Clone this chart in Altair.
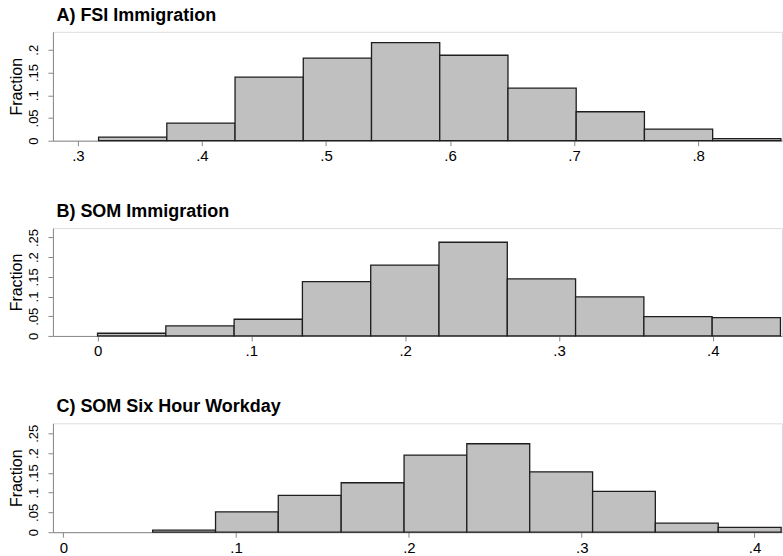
import altair as alt
import pandas as pd

FONT = "Liberation Sans"

# Panel titles
titles = ["A) FSI Immigration", "B) SOM Immigration", "C) SOM Six Hour Workday"]

# A) FSI Immigration: bin edges and fraction per bin
fsi_edges = [0.3167, 0.3717, 0.4267, 0.4817, 0.5367, 0.5917, 0.6467, 0.7017, 0.7567, 0.8117, 0.8667]
fsi_frac = [0.008, 0.0387, 0.140, 0.1816, 0.216, 0.188, 0.1156, 0.0637, 0.0255, 0.0044]

# B) SOM Immigration
som_imm_edges = [0.0, 0.0444, 0.0888, 0.1332, 0.1776, 0.222, 0.2664, 0.3108, 0.3552, 0.3996, 0.444]
som_imm_frac = [0.0068, 0.0254, 0.0424, 0.138, 0.180, 0.238, 0.1447, 0.099, 0.049, 0.0467]

# C) SOM Six Hour Workday
som_six_edges = [0.0517, 0.0881, 0.1244, 0.1608, 0.1972, 0.2335, 0.2699, 0.3063, 0.3426, 0.379, 0.4154]
som_six_frac = [0.005, 0.0515, 0.093, 0.125, 0.195, 0.2237, 0.1528, 0.103, 0.0228, 0.012]

# Axis tick values
fsi_xticks = [0.3, 0.4, 0.5, 0.6, 0.7, 0.8]
som_xticks = [0.0, 0.1, 0.2, 0.3, 0.4]
yticks_a = [0.0, 0.05, 0.1, 0.15, 0.2]
yticks_bc = [0.0, 0.05, 0.1, 0.15, 0.2, 0.25]

# Stata-style labels: "0", ".05", ".1", ...
LABEL_EXPR = "datum.value == 0 ? '0' : substring(format(datum.value, '.2~f'), 1)"


def histogram(title, edges, fracs, xdom, xticks, ydom, yticks, height):
    df = pd.DataFrame({"lo": edges[:-1], "hi": edges[1:], "frac": fracs})
    return (
        alt.Chart(
            df,
            title=alt.Title(
                title,
                anchor="start",
                frame="group",
                font=FONT,
                fontSize=18,
                fontWeight="bold",
                color="black",
                offset=7,
                dx=3.5,
            ),
        )
        .mark_rect(fill="#c0c0c0", stroke="#1e1e1e", strokeWidth=1.3)
        .encode(
            x=alt.X(
                "lo:Q",
                scale=alt.Scale(domain=xdom, nice=False, zero=False),
                axis=alt.Axis(
                    values=xticks,
                    labelExpr=LABEL_EXPR,
                    labelFontSize=15,
                    labelPadding=3,
                    labelFlush=False,
                    grid=False,
                ),
                title=None,
            ),
            x2="hi:Q",
            y=alt.Y(
                "frac:Q",
                scale=alt.Scale(domain=ydom, nice=False),
                axis=alt.Axis(
                    values=yticks,
                    labelExpr=LABEL_EXPR,
                    labelAngle=270,
                    labelAlign="center",
                    labelBaseline="alphabetic",
                    labelFontSize=13,
                    labelPadding=10,
                    labelFlush=False,
                    labelOverlap=False,
                    grid=False,
                    title="Fraction",
                    titleFontSize=16,
                    titleFontWeight="normal",
                    titlePadding=3,
                ),
            ),
            y2=alt.datum(0),
        )
        .properties(width=730, height=height)
    )


panel_a = histogram(titles[0], fsi_edges, fsi_frac, [0.2799, 0.8676], fsi_xticks,
                    [0, 0.2396], yticks_a, 109)
panel_b = histogram(titles[1], som_imm_edges, som_imm_frac, [-0.029, 0.445], som_xticks,
                    [0, 0.274], yticks_bc, 108)
panel_c = histogram(titles[2], som_six_edges, som_six_frac, [-0.006, 0.4159], som_xticks,
                    [0, 0.2754], yticks_bc, 109)

top_pair = alt.vconcat(panel_a, panel_b, spacing=37.5)

chart = (
    alt.vconcat(top_pair, panel_c, spacing=38)
    .properties(padding={"left": 8, "top": 5.5, "right": 0, "bottom": 0})
    .configure_view(stroke=None)
    .configure_axis(
        domainColor="black",
        domainWidth=1.2,
        tickColor="black",
        tickWidth=1,
        tickSize=5,
        grid=False,
        labelFont=FONT,
        labelColor="black",
        titleFont=FONT,
        titleColor="black",
    )
    .configure(background="white")
)

chart.save("out.html", embed_options={"renderer": "svg", "actions": False})
